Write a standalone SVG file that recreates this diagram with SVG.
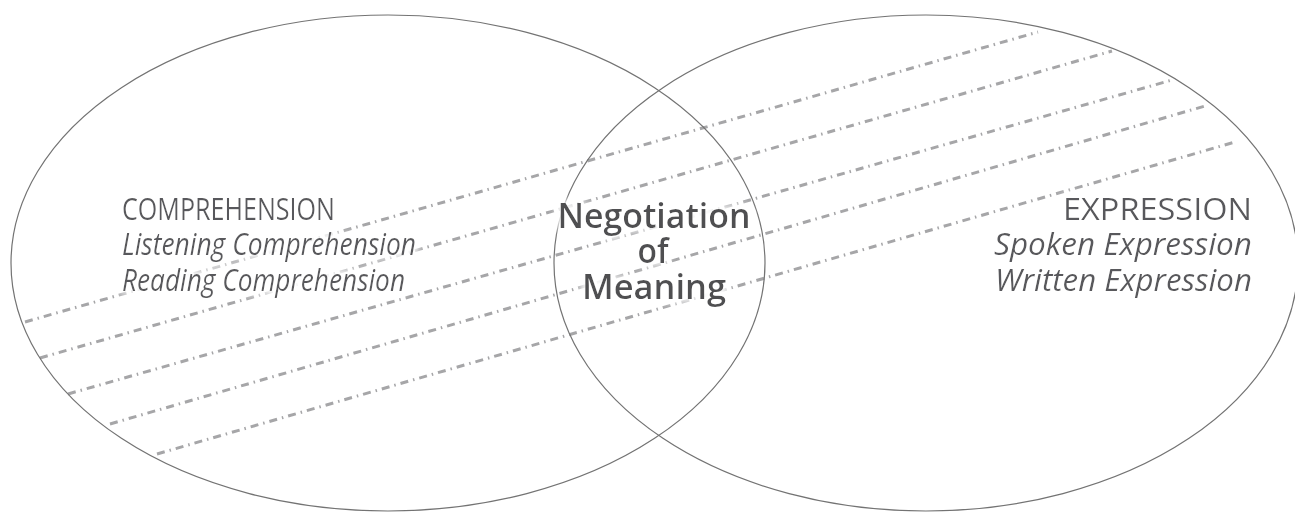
<svg xmlns="http://www.w3.org/2000/svg" width="1295" height="512" viewBox="0 0 1295 512">
  <style>
    .ring { fill: none; stroke: #737373; stroke-width: 1.2; }
    .hatch { fill: none; stroke: #a6a6a8; stroke-width: 3; stroke-dasharray: 8 5 1.5 5; }
    .t { font-family: "Open Sans", "Noto Sans", sans-serif; fill: #59595b; font-size: 31px; }
    .it { font-style: italic; }
    .mid { font-family: "Open Sans", "Noto Sans", sans-serif; fill: #4f4f51; font-size: 35px; font-weight: 600; text-anchor: middle; }
  </style>
  <defs>
    <filter id="halo" x="-15%" y="-60%" width="130%" height="220%">
      <feMorphology in="SourceAlpha" operator="dilate" radius="2" result="d"/>
      <feGaussianBlur in="d" stdDeviation="4" result="b"/>
      <feFlood flood-color="#ffffff" flood-opacity="0.9"/>
      <feComposite in2="b" operator="in" result="w"/>
      <feMerge>
        <feMergeNode in="w"/>
        <feMergeNode in="w"/>
        <feMergeNode in="SourceGraphic"/>
      </feMerge>
    </filter>
  </defs>
  <rect x="0" y="0" width="1295" height="512" fill="#ffffff"/>

  <g id="hatching">
    <line class="hatch" x1="25" y1="322" x2="1038" y2="32"/>
    <line class="hatch" x1="40" y1="358" x2="1112" y2="51"/>
    <line class="hatch" x1="68" y1="394" x2="1172" y2="80"/>
    <line class="hatch" x1="110" y1="424" x2="1205" y2="106"/>
    <line class="hatch" x1="157" y1="454" x2="1235" y2="142"/>
  </g>

  <g id="comprehension">
    <ellipse class="ring" cx="388" cy="263" rx="377" ry="248"/>
    <g filter="url(#halo)">
      <text class="t" x="122" y="220" textLength="213" lengthAdjust="spacingAndGlyphs">COMPREHENSION</text>
      <text class="t it" x="122" y="255" textLength="294" lengthAdjust="spacingAndGlyphs">Listening Comprehension</text>
      <text class="t it" x="122" y="291" textLength="283" lengthAdjust="spacingAndGlyphs">Reading Comprehension</text>
    </g>
  </g>

  <g id="expression">
    <ellipse class="ring" cx="926" cy="263" rx="372" ry="248"/>
    <g filter="url(#halo)">
      <text class="t" x="1063" y="220" textLength="189" lengthAdjust="spacingAndGlyphs">EXPRESSION</text>
      <text class="t it" x="994" y="255" textLength="258" lengthAdjust="spacingAndGlyphs">Spoken Expression</text>
      <text class="t it" x="995" y="291" textLength="257" lengthAdjust="spacingAndGlyphs">Written Expression</text>
    </g>
  </g>

  <g id="negotiation" filter="url(#halo)">
    <text class="mid" x="654" y="228" textLength="193" lengthAdjust="spacingAndGlyphs">Negotiation</text>
    <text class="mid" x="653" y="263" textLength="31" lengthAdjust="spacingAndGlyphs">of</text>
    <text class="mid" x="654" y="299" textLength="144" lengthAdjust="spacingAndGlyphs">Meaning</text>
  </g>
</svg>
